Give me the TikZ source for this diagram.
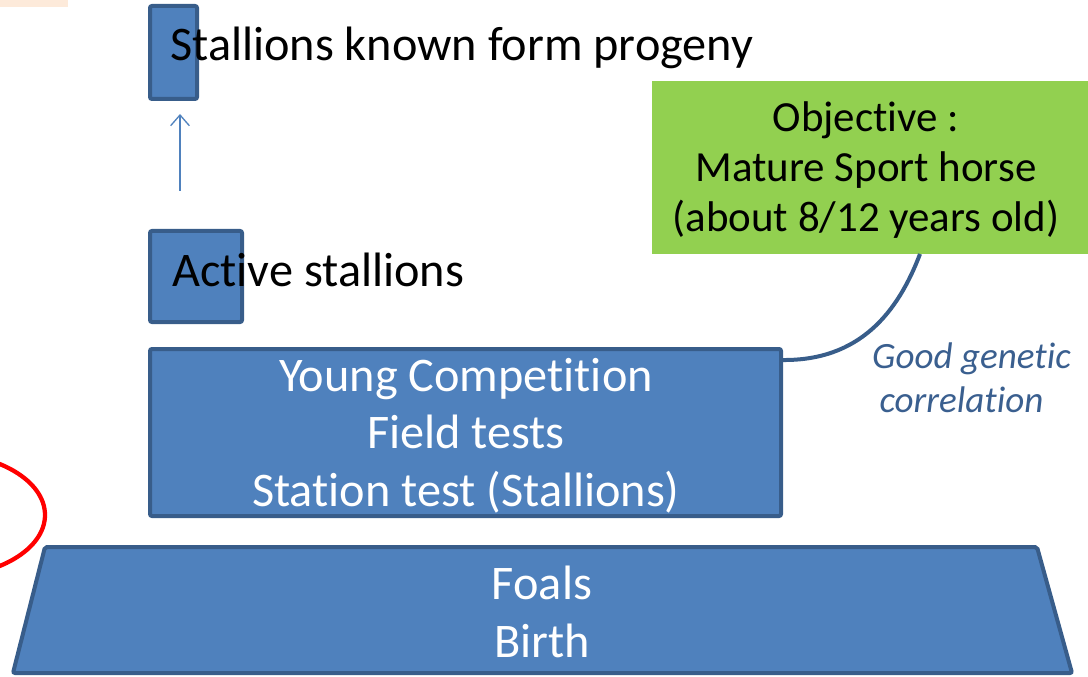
\documentclass[tikz,border=0pt]{standalone}
\usepackage{fontspec}
\setmainfont{Carlito}[Ligatures=NoCommon]
\usetikzlibrary{arrows.meta}
\definecolor{boxfill}{HTML}{4F81BD}
\definecolor{boxline}{HTML}{385D8A}
\definecolor{objgreen}{HTML}{92D050}
\definecolor{peach}{HTML}{FDEADA}
\definecolor{labelblue}{HTML}{3A5F8F}
\definecolor{ringred}{HTML}{FF0000}
\tikzset{
  bluebox/.style={draw=boxline, fill=boxfill, line width=3pt, rounded corners=1.5pt, inner sep=0pt, outer sep=0pt},
  bigtext/.style={font=\fontsize{36.2}{43}\selectfont},
  whitetext/.style={bigtext, text=white, align=center, inner sep=0pt},
  objbox/.style={fill=objgreen, inner sep=0pt, outer sep=0pt},
  objtext/.style={align=center, inner sep=0pt, font=\fontsize{32.2}{37.5}\selectfont},
  link/.style={draw=boxline, line width=3pt},
  uparrow/.style={draw=boxfill, line width=1pt, -{Straight Barb[length=8pt,width=14pt]}},
  corrlabel/.style={text=labelblue, align=center, inner sep=0pt, font=\itshape\fontsize{27.8}{33}\selectfont},
}
\begin{document}
\begin{tikzpicture}[x=0.75pt,y=-0.75pt]
\useasboundingbox (0,0) rectangle (1088,677);
% peach strip
\fill[peach] (0,0) rectangle (68,7);
% red ring (partly outside)
\begin{scope}
\clip (0,0) rectangle (1088,677);
\draw[ringred, line width=3.2pt] (-60,515) ellipse [x radius=105, y radius=62];
\end{scope}
% small boxes
\node[bluebox, minimum width=35.25pt, minimum height=69.75pt] (top) at (173.5,52.5) {};
\node[bluebox, minimum width=69pt, minimum height=68.25pt] (act) at (196,276.5) {};
\node[bigtext, anchor=west, inner sep=0pt] (toplab) at (170,48) {Stallions known form progeny};
\node[bigtext, anchor=west, inner sep=0pt] (actlab) at (172,270) {Active stallions};
% arrow
\coordinate (arrA) at (180,191);
\coordinate (arrB) at (180,114);
\draw[uparrow] (arrA) -- (arrB);
% young competition box
\node[bluebox, minimum width=473.25pt, minimum height=125.25pt] (young) at (465.5,432.5) {};
\node[whitetext] (youngtext) at (466,435.5) {Young Competition\\Field tests\\Station test (Stallions)};
% trapezoid
\draw[bluebox] (45,547) -- (1037,547) -- (1072,673) -- (13,673) -- cycle;
\node[whitetext] (foals) at (542,612) {Foals\\Birth};
% objective box
\node[objbox, minimum width=327pt, minimum height=129.75pt] (obj) at (870,167.5) {};
\node[objtext] (objtext) at (866,170.5) {Objective :\\Mature Sport horse\\(about 8/12 years old)};
% correlation curve
\coordinate (cA) at (782,360);
\coordinate (cB) at (920,254);
\draw[link] (cA) .. controls (860,361) and (898,312) .. (cB);
\node[corrlabel] (corr) at (971.5,378) {Good genetic\\correlation\hspace*{15pt}};
\end{tikzpicture}
\end{document}
